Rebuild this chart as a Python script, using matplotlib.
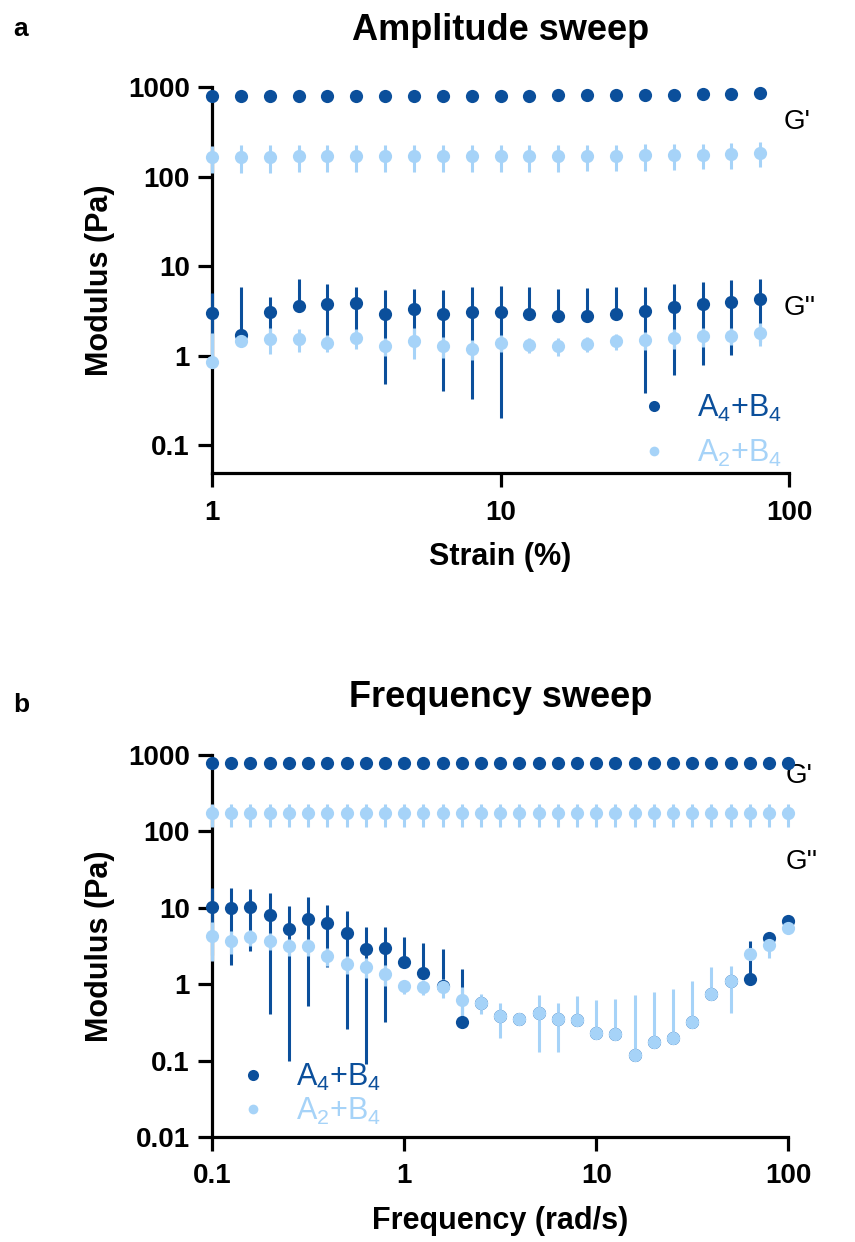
import numpy as np
import matplotlib.pyplot as plt
from matplotlib.lines import Line2D

plt.rcParams['font.family'] = ['Liberation Sans', 'DejaVu Sans']
plt.rcParams['mathtext.fontset'] = 'custom'
plt.rcParams['mathtext.rm'] = 'Liberation Sans'

dark = '#0b4f9b'
light = '#a6d3f8'
lab_a4 = r'A$_\mathregular{4}$+B$_\mathregular{4}$'
lab_a2 = r'A$_\mathregular{2}$+B$_\mathregular{4}$'

# amplitude sweep (strain in %)
strain = [1, 1.259, 1.585, 1.995, 2.512, 3.162, 3.981, 5.012, 6.310, 7.943,
          10, 12.59, 15.85, 19.95, 25.12, 31.62, 39.81, 50.12, 63.10, 79.43]
amp_gp_a4 = [790, 790, 792, 793, 794, 795, 796, 797, 798, 799,
             800, 802, 805, 808, 812, 817, 822, 830, 838, 848]
amp_gp_a4_sd = [15] * 20
amp_gp_a2 = [166, 167, 167, 168, 168, 168, 168, 168, 168, 168,
             168, 169, 169, 170, 171, 172, 174, 176, 179, 184]
amp_gp_a2_sd = [56] * 20
amp_gpp_a4 = [3.0, 1.72, 3.07, 3.58, 3.8, 3.9, 2.94, 3.34, 2.94, 3.07,
              3.07, 2.94, 2.77, 2.77, 2.94, 3.15, 3.49, 3.74, 4.0, 4.33]
amp_gpp_a4_sd = [2.0, 4.2, 1.5, 3.6, 2.5, 2.0, 2.45, 2.16, 2.54, 2.74,
                 2.87, 2.95, 2.83, 3.0, 2.95, 2.77, 2.88, 2.95, 2.97, 2.9]
amp_gpp_a2 = [0.86, 1.45, 1.55, 1.55, 1.39, 1.58, 1.29, 1.47, 1.29, 1.2,
              1.39, 1.33, 1.29, 1.36, 1.45, 1.51, 1.58, 1.65, 1.68, 1.8]
amp_gpp_a2_sd = [0.94, 0.2, 0.5, 0.45, 0.3, 0.4, 0.3, 0.55, 0.35, 0.3,
                 0.3, 0.25, 0.3, 0.25, 0.3, 0.35, 0.4, 0.4, 0.35, 0.5]

# frequency sweep (rad/s)
freq = [0.1, 0.1259, 0.1585, 0.1995, 0.2512, 0.3162, 0.3981, 0.5012, 0.631, 0.7943,
        1, 1.259, 1.585, 1.995, 2.512, 3.162, 3.981, 5.012, 6.31, 7.943,
        10, 12.59, 15.85, 19.95, 25.12, 31.62, 39.81, 50.12, 63.1, 79.43, 100]
frq_gp_a4 = [775] * 31
frq_gp_a4_sd = [15] * 31
frq_gp_a2 = [170] * 31
frq_gp_a2_sd = [56] * 31
frq_gpp_a4 = [10.1, 9.8, 10.1, 7.9, 5.25, 7.07, 6.27, 4.66, 2.84, 2.92,
              1.96, 1.39, 0.93, 0.32, 0.57, 0.38, 0.35, 0.42, 0.35, 0.34,
              0.23, 0.22, 0.118, 0.176, 0.198, 0.32, 0.74, 1.08, 1.18, 4.0, 6.7]
frq_gpp_a4_sd = [7.7, 8.0, 7.4, 7.5, 5.15, 6.55, 4.6, 4.4, 2.75, 2.6,
                 2.1, 2.1, 1.9, 1.24, 0.05, 0.05, 0.05, 0.05, 0.05, 0.05,
                 0.02, 0.02, 0.01, 0.01, 0.01, 0.02, 0.05, 0.05, 2.5, 0.4, 0.3]
frq_gpp_a2 = [4.2, 3.7, 4.1, 3.7, 3.13, 3.13, 2.32, 1.85, 1.69, 1.35,
              0.93, 0.92, 0.905, 0.61, 0.57, 0.38, 0.35, 0.42, 0.35, 0.34,
              0.23, 0.22, 0.118, 0.176, 0.198, 0.32, 0.74, 1.08, 2.49, 3.19, 5.4]
frq_gpp_a2_sd = [2.2, 1.2, 1.0, 0.9, 0.8, 0.8, 0.6, 0.5, 0.5, 0.4,
                 0.2, 0.2, 0.25, 0.3, 0.16, 0.18, 0.05, 0.29, 0.22, 0.35,
                 0.38, 0.42, 0.61, 0.6, 0.66, 0.78, 0.93, 0.66, 0.4, 1.0, 0.3]


def draw(ax, x, y, sd, color, ms):
    y = np.array(y, dtype=float)
    sd = np.array(sd, dtype=float)
    # lower bar is left out when it would go below zero (log axis)
    low = np.where(sd < y, sd, 0)
    eb = ax.errorbar(x, y, yerr=[low, sd], fmt='o', color=color, ms=ms,
                     elinewidth=2.2, capsize=0, mew=0, zorder=3)
    for a in eb.get_children():
        a.set_clip_on(False)


def style(ax, xt, yt):
    ax.set_xscale('log')
    ax.set_yscale('log')
    ax.set_xticks(xt)
    ax.set_xticklabels([str(v) for v in xt], fontweight='bold')
    ax.set_yticks(yt)
    ax.set_yticklabels([str(v) for v in yt], fontweight='bold')
    ax.spines['top'].set_visible(False)
    ax.spines['right'].set_visible(False)
    ax.spines['left'].set_linewidth(2.3)
    ax.spines['bottom'].set_linewidth(2.3)
    ax.tick_params(which='major', length=10, width=2.3, labelsize=20, pad=6)
    ax.tick_params(axis='x', pad=9)
    ax.tick_params(which='minor', length=0)


fig = plt.figure(figsize=(8.55, 12.42), dpi=100)

# ---- a: amplitude sweep
ax1 = fig.add_axes([0.248, 0.619, 0.675, 0.311])
style(ax1, [1, 10, 100], [0.1, 1, 10, 100, 1000])
draw(ax1, strain, amp_gp_a4, amp_gp_a4_sd, dark, 9.5)
draw(ax1, strain, amp_gpp_a4, amp_gpp_a4_sd, dark, 9.5)
draw(ax1, strain, amp_gp_a2, amp_gp_a2_sd, light, 9.5)
draw(ax1, strain, amp_gpp_a2, amp_gpp_a2_sd, light, 9.5)
ax1.set_xlim(1, 100)
ax1.set_ylim(0.049, 1000)
ax1.set_xlabel('Strain (%)', fontsize=22, fontweight='bold', labelpad=12)
ax1.set_ylabel('Modulus (Pa)', fontsize=22, fontweight='bold', labelpad=9)
ax1.set_title('Amplitude sweep', fontsize=26, fontweight='bold', pad=34)
ax1.text(0.99, 0.909, "G'", transform=ax1.transAxes, fontsize=20, va='center')
ax1.text(0.99, 0.427, "G''", transform=ax1.transAxes, fontsize=20, va='center')
h = [Line2D([], [], marker='o', ls='none', color=dark, ms=8, mew=0),
     Line2D([], [], marker='o', ls='none', color=light, ms=7, mew=0)]
ax1.legend(h, [lab_a4, lab_a2], loc='center left', bbox_to_anchor=(0.665, 0.11),
           frameon=False, fontsize=22, labelcolor=[dark, light],
           handletextpad=0.4, labelspacing=0.45)

# ---- b: frequency sweep
ax2 = fig.add_axes([0.248, 0.0845, 0.674, 0.308])
style(ax2, [0.1, 1, 10, 100], [0.01, 0.1, 1, 10, 100, 1000])
draw(ax2, freq, frq_gp_a4, frq_gp_a4_sd, dark, 9.5)
draw(ax2, freq, frq_gpp_a4, frq_gpp_a4_sd, dark, 9.5)
draw(ax2, freq, frq_gp_a2, frq_gp_a2_sd, light, 9.5)
draw(ax2, freq, frq_gpp_a2, frq_gpp_a2_sd, light, 9.5)
ax2.set_xlim(0.1, 100)
ax2.set_ylim(0.01, 1000)
ax2.set_xlabel('Frequency (rad/s)', fontsize=22, fontweight='bold', labelpad=12)
ax2.set_ylabel('Modulus (Pa)', fontsize=22, fontweight='bold', labelpad=9)
ax2.set_title('Frequency sweep', fontsize=26, fontweight='bold', pad=34)
ax2.text(0.995, 0.943, "G'", transform=ax2.transAxes, fontsize=20, va='center')
ax2.text(0.995, 0.718, "G''", transform=ax2.transAxes, fontsize=20, va='center')
h = [Line2D([], [], marker='o', ls='none', color=dark, ms=8, mew=0),
     Line2D([], [], marker='o', ls='none', color=light, ms=7, mew=0)]
ax2.legend(h, [lab_a4, lab_a2], loc='center left', bbox_to_anchor=(-0.03, 0.112),
           frameon=False, fontsize=22, labelcolor=[dark, light],
           handletextpad=0.4, labelspacing=0.1)

fig.text(0.015, 0.977, 'a', fontsize=19, fontweight='bold', va='center')
fig.text(0.015, 0.432, 'b', fontsize=19, fontweight='bold', va='center')

fig.savefig('out.png', dpi=100)
